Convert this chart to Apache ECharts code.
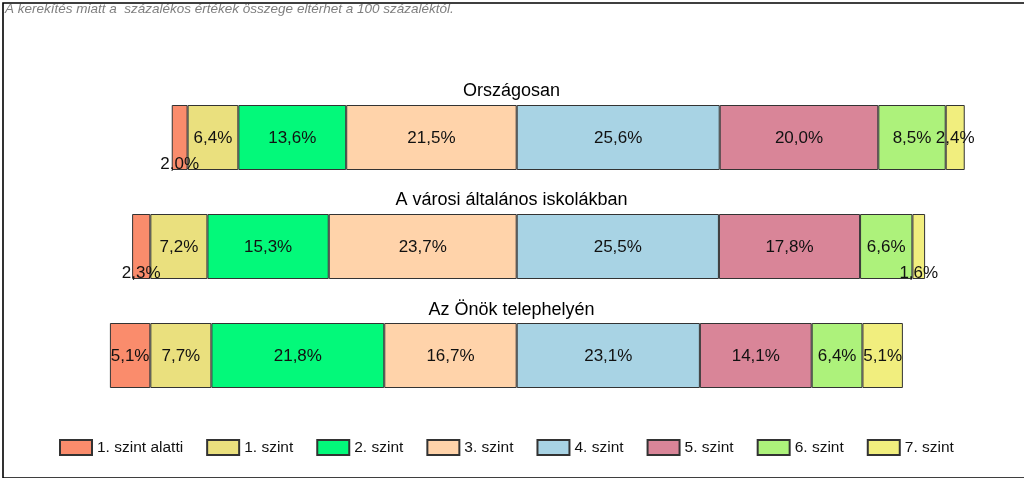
<!DOCTYPE html>
<html>
<head>
<meta charset="utf-8">
<script src="https://cdn.jsdelivr.net/npm/echarts@6/dist/echarts.min.js"></script>
<style>
html,body{margin:0;padding:0;background:#fff;}
#chart{width:1024px;height:478px;}
</style>
</head>
<body>
<div id="chart"></div>
<script>
// ---- data ----
const categories = ['Országosan', 'A városi általános iskolákban', 'Az Önök telephelyén'];
const levelNames = ['1. szint alatti', '1. szint', '2. szint', '3. szint', '4. szint', '5. szint', '6. szint', '7. szint'];
const belowLevel1 = [2.0, 2.3, 5.1];
const level1 = [6.4, 7.2, 7.7];
const level2 = [13.6, 15.3, 21.8];
const level3 = [21.5, 23.7, 16.7];
const level4 = [25.6, 25.5, 23.1];
const level5 = [20.0, 17.8, 14.1];
const level6 = [8.5, 6.6, 6.4];
const level7 = [2.4, 1.6, 5.1];
const noteText = 'A kerekítés miatt a  százalékos értékek összege eltérhet a 100 százaléktól.';

// ---- style ----
const colors = ['#FA8C6C', '#EAE07E', '#03F97A', '#FFD3AA', '#A8D3E4', '#D98598', '#ADF27B', '#F1EE7E'];
const lowLabels = {'0-0': true, '0-1': true, '7-1': true}; // seriesIdx-dataIdx labels placed at bar bottom
const CENTER = 60;

const seriesValues = [belowLevel1, level1, level2, level3, level4, level5, level6, level7];
const offsets = categories.map((c, i) => CENTER - (belowLevel1[i] + level1[i] + level2[i] + level3[i]));

const fmt = v => v.toFixed(1).replace('.', ',') + '%';

const series = [{
  name: '_offset', type: 'bar', stack: 'all', barWidth: 65,
  itemStyle: {color: 'transparent'}, silent: true, data: offsets, label: {show: false}
}];
seriesValues.forEach((vals, si) => {
  series.push({
    name: levelNames[si], type: 'bar', stack: 'all', barWidth: 65,
    itemStyle: {color: colors[si], borderColor: '#333', borderWidth: 1},
    label: {show: true, position: 'inside', color: '#111', fontSize: 17, fontFamily: 'Liberation Sans',
      offset: [0, 1], formatter: p => fmt(p.value)},
    data: vals.map((v, di) => lowLabels[si + '-' + di]
      ? {value: v, label: {position: 'insideBottom', distance: -2}}
      : v)
  });
});

const titleY = [91, 200, 310];
const graphics = [
  {type: 'rect', left: 0.5, top: 0.5, shape: {width: 1022, height: 475}, style: {fill: 'none', stroke: '#000', lineWidth: 1.6}, silent: true},
  {type: 'text', left: 5, top: 2, style: {text: noteText, fill: '#7f7f7f', font: 'italic 13.5px "Liberation Sans"'}}
];
categories.forEach((c, i) => {
  graphics.push({type: 'text', x: 511.5, y: titleY[i],
    style: {text: c, fill: '#000', font: '18px "Liberation Sans"', textAlign: 'center', textVerticalAlign: 'middle'}});
});

const chart = echarts.init(document.getElementById('chart'), null, {renderer: 'canvas'});
chart.setOption({
  animation: false,
  backgroundColor: '#fff',
  textStyle: {fontFamily: 'Liberation Sans'},
  grid: {left: 40.9, top: 83, width: 951.6, height: 327},
  xAxis: {type: 'value', min: 0, max: 120, show: false},
  yAxis: {type: 'category', data: categories, inverse: true, show: false},
  legend: {
    data: levelNames, left: 59, top: 439, padding: 0, icon: 'rect',
    itemWidth: 32, itemHeight: 15, itemGap: 23, itemTextGap: 6,
    textStyle: {fontSize: 15.5, color: '#111', fontFamily: 'Liberation Sans'}
  },
  series: series,
  graphic: graphics
});
</script>
</body>
</html>
